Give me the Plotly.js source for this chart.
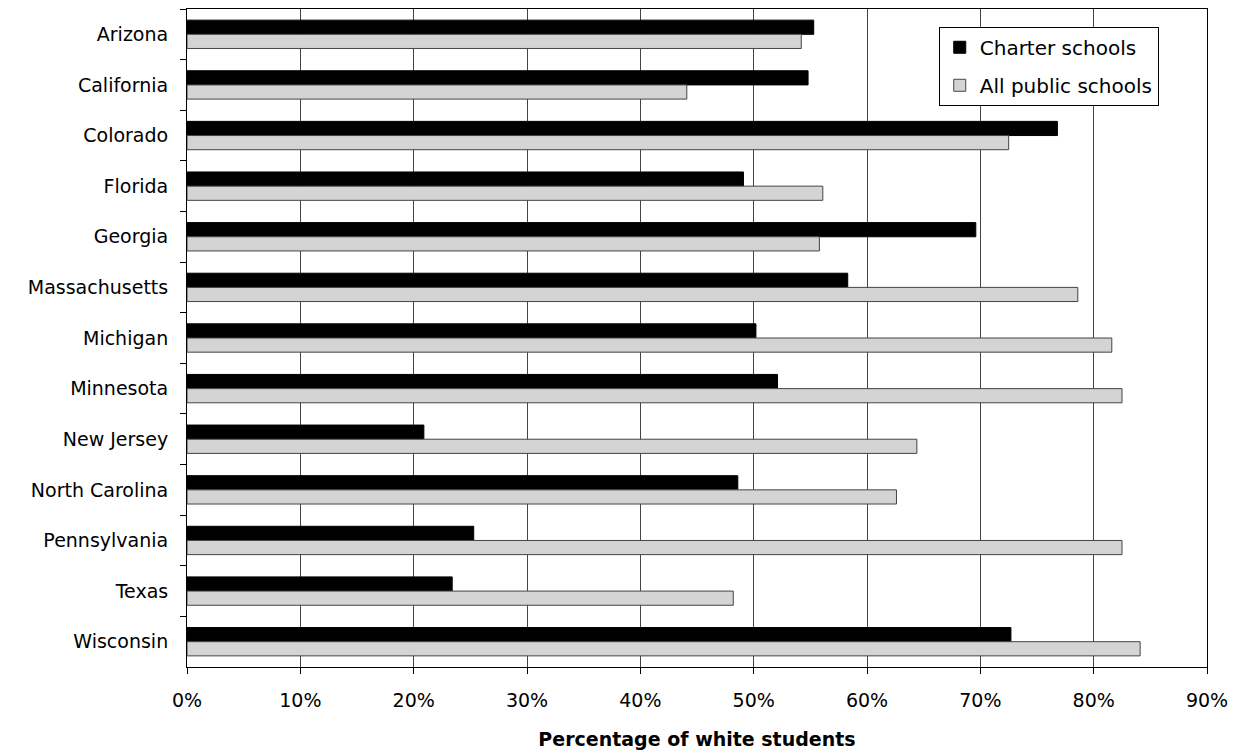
<!DOCTYPE html>
<html>
<head>
<meta charset="utf-8">
<script src="https://cdn.plot.ly/plotly-3.0.1.min.js"></script>
<style>html,body{margin:0;padding:0;background:#fff;}#chart{width:1236px;height:750px;}</style>
</head>
<body>
<div id="chart"></div>
<script>
const states = ["Arizona","California","Colorado","Florida","Georgia","Massachusetts","Michigan","Minnesota","New Jersey","North Carolina","Pennsylvania","Texas","Wisconsin"];
const charterSchools = [0.553,0.548,0.768,0.491,0.696,0.583,0.502,0.521,0.209,0.486,0.253,0.234,0.727];
const allPublicSchools = [0.542,0.441,0.725,0.561,0.558,0.786,0.816,0.825,0.644,0.626,0.825,0.482,0.841];
const seriesNames = ["Charter schools","All public schools"];
const xTickVals = [0,0.1,0.2,0.3,0.4,0.5,0.6,0.7,0.8,0.9];

const font = {family: "DejaVu Sans, Verdana, sans-serif", size: 19, color: "#000"};

const traces = [
  {type:"bar", orientation:"h", name: seriesNames[0], y: states, x: charterSchools,
   legendgroup:"a",
   marker:{color:"#000000", line:{color:"#000000", width:1}}},
  {type:"bar", orientation:"h", name: seriesNames[1], y: states, x: allPublicSchools,
   legendgroup:"b",
   marker:{color:"#d4d4d4", line:{color:"#444444", width:1}}}
];

const layout = {
  width:1236, height:750,
  margin:{l:187, r:29, t:9, b:83},
  paper_bgcolor:"#fff", plot_bgcolor:"#fff",
  font: font,
  barmode:"group", bargap:0.44, bargroupgap:0,
  showlegend:true,
  legend:{x:0.737, y:0.973, xanchor:"left", yanchor:"top",
    bgcolor:"#fff", bordercolor:"#000", borderwidth:1,
    font:{family:font.family, size:20, color:"#000"},
    tracegroupgap:9, traceorder:"grouped"},
  xaxis:{range:[0,0.9], tickvals:xTickVals, tickformat:".0%",
    showgrid:true, gridcolor:"#444", gridwidth:1,
    zeroline:false, showline:true, linecolor:"#000", linewidth:1, mirror:true,
    ticks:"outside", ticklen:6, tickcolor:"#000", ticklabelstandoff:10,
    fixedrange:true,
    title:{text:"<b>Percentage of white students</b>", font:{family:font.family, size:19, color:"#000"}, standoff:24}},
  yaxis:{type:"category", autorange:"reversed", categoryorder:"array", categoryarray:states,
    showgrid:false, zeroline:false, showline:true, linecolor:"#000", linewidth:1, mirror:true,
    ticks:"outside", tickson:"boundaries", ticklen:6, tickcolor:"#000", ticklabelstandoff:14,
    fixedrange:true}
};

Plotly.newPlot("chart", traces, layout, {displayModeBar:false, staticPlot:true});
</script>
</body>
</html>
